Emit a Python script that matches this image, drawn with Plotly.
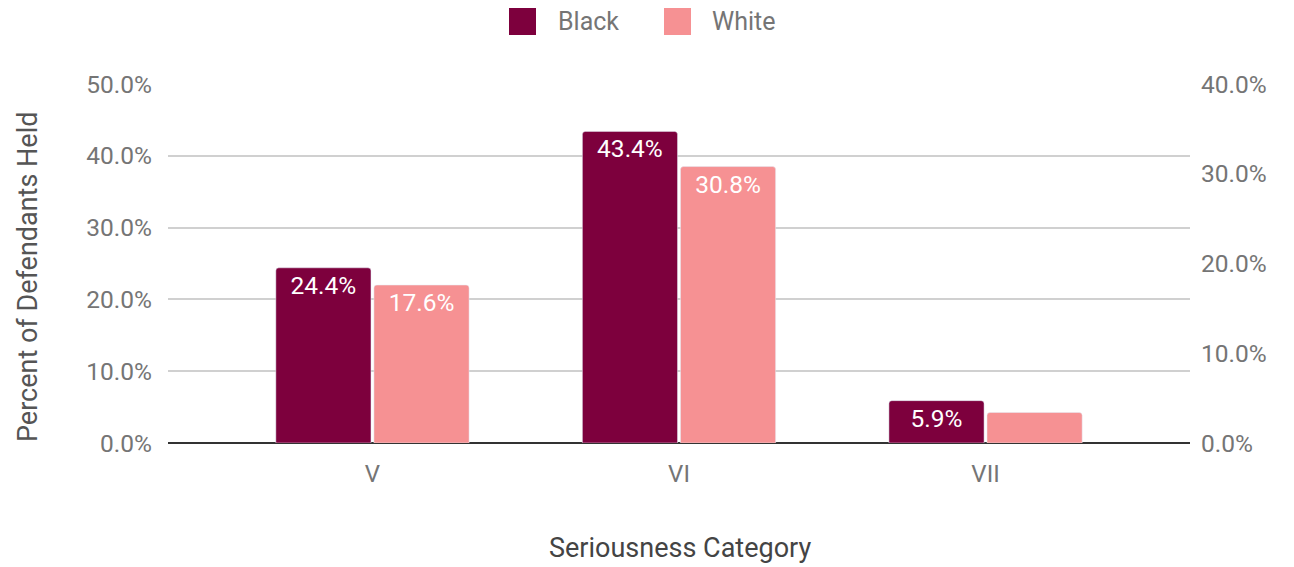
import plotly.graph_objects as go

categories = ["V", "VI", "VII"]
series_names = ["Black", "White"]
black_values = [24.4, 43.4, 5.9]
white_values = [17.6, 30.8, 3.4]
black_labels = ["24.4%", "43.4%", "5.9%"]
white_labels = ["17.6%", "30.8%", ""]
left_ticks = [0, 10, 20, 30, 40, 50]
right_ticks = [0, 10, 20, 30, 40]
x_title = "Seriousness Category"
y_title = "Percent of Defendants Held"

FONT = "Roboto, Arial, sans-serif"
GRAY = "#757575"
COLORS = ["#7d003d", "#f69193"]

W, H = 1286, 559
ML, MR, MT, MB = 160, 104, 76, 124
PW, PH = W - ML - MR, H - MT - MB


def px_x(x):
    return (x - ML) / PW


def px_y(y):
    return 1 - (y - MT) / PH


fig = go.Figure()
fig.add_trace(go.Bar(
    x=categories, y=black_values, name=series_names[0], yaxis="y",
    offsetgroup="1", marker=dict(color=COLORS[0], cornerradius=3),
    text=black_labels, textposition="inside", insidetextanchor="end",
    textfont=dict(color="white", size=24.5, family=FONT), textangle=0,
    showlegend=False,
))
fig.add_trace(go.Bar(
    x=categories, y=white_values, name=series_names[1], yaxis="y2",
    offsetgroup="2", marker=dict(color=COLORS[1], cornerradius=3),
    text=white_labels, textposition="inside", insidetextanchor="end",
    textfont=dict(color="white", size=24.5, family=FONT), textangle=0,
    showlegend=False,
))

# manual legend (large swatches like the original)
legend_swatch_x = [501, 656]
legend_text_x = [548, 702]
shapes = []
annotations = []
for name, color, sx, tx in zip(series_names, COLORS, legend_swatch_x, legend_text_x):
    shapes.append(dict(
        type="rect", xref="paper", yref="paper",
        x0=px_x(sx), x1=px_x(sx + 27), y0=px_y(0), y1=px_y(27),
        fillcolor=color, line=dict(width=0), layer="above",
    ))
    annotations.append(dict(
        text=name, xref="paper", yref="paper", x=px_x(tx), y=px_y(14),
        xanchor="left", yanchor="middle", showarrow=False,
        font=dict(size=25, color=GRAY, family=FONT),
    ))

# axis titles
annotations.append(dict(
    text=y_title, xref="paper", yref="paper", x=px_x(20), y=px_y(269),
    xanchor="center", yanchor="middle", textangle=-90, showarrow=False,
    font=dict(size=27, color="#555555", family=FONT),
))
annotations.append(dict(
    text=x_title, xref="paper", yref="paper", x=px_x(672), y=px_y(540),
    xanchor="center", yanchor="middle", showarrow=False,
    font=dict(size=27, color="#444444", family=FONT),
))

fig.update_layout(
    width=W, height=H,
    margin=dict(l=ML, r=MR, t=MT, b=MB),
    paper_bgcolor="white", plot_bgcolor="white",
    barmode="group", bargap=0.36, bargroupgap=0.03,
    font=dict(family=FONT, color=GRAY, size=24),
    showlegend=False,
    shapes=shapes, annotations=annotations,
    xaxis=dict(
        range=[-0.667, 2.667], showgrid=False, showline=False, ticks="",
        tickfont=dict(size=24, color=GRAY), ticklabelstandoff=14,
        automargin=False,
    ),
    yaxis=dict(
        range=[0, 50], tickvals=left_ticks,
        ticktext=[f"{v:.1f}%" for v in left_ticks],
        showgrid=True, gridcolor="#d0d0d0", gridwidth=1.5,
        zeroline=True, zerolinecolor="#333333", zerolinewidth=2,
        ticks="", ticklabelstandoff=15, automargin=False,
        tickfont=dict(size=24.5, color=GRAY),
    ),
    yaxis2=dict(
        range=[0, 40], tickvals=right_ticks,
        ticktext=[f"{v:.1f}%" for v in right_ticks],
        overlaying="y", side="right", showgrid=False, zeroline=False,
        ticks="", ticklabelstandoff=10, automargin=False,
        tickfont=dict(size=24.5, color=GRAY),
    ),
)

fig.write_html("out.html")
